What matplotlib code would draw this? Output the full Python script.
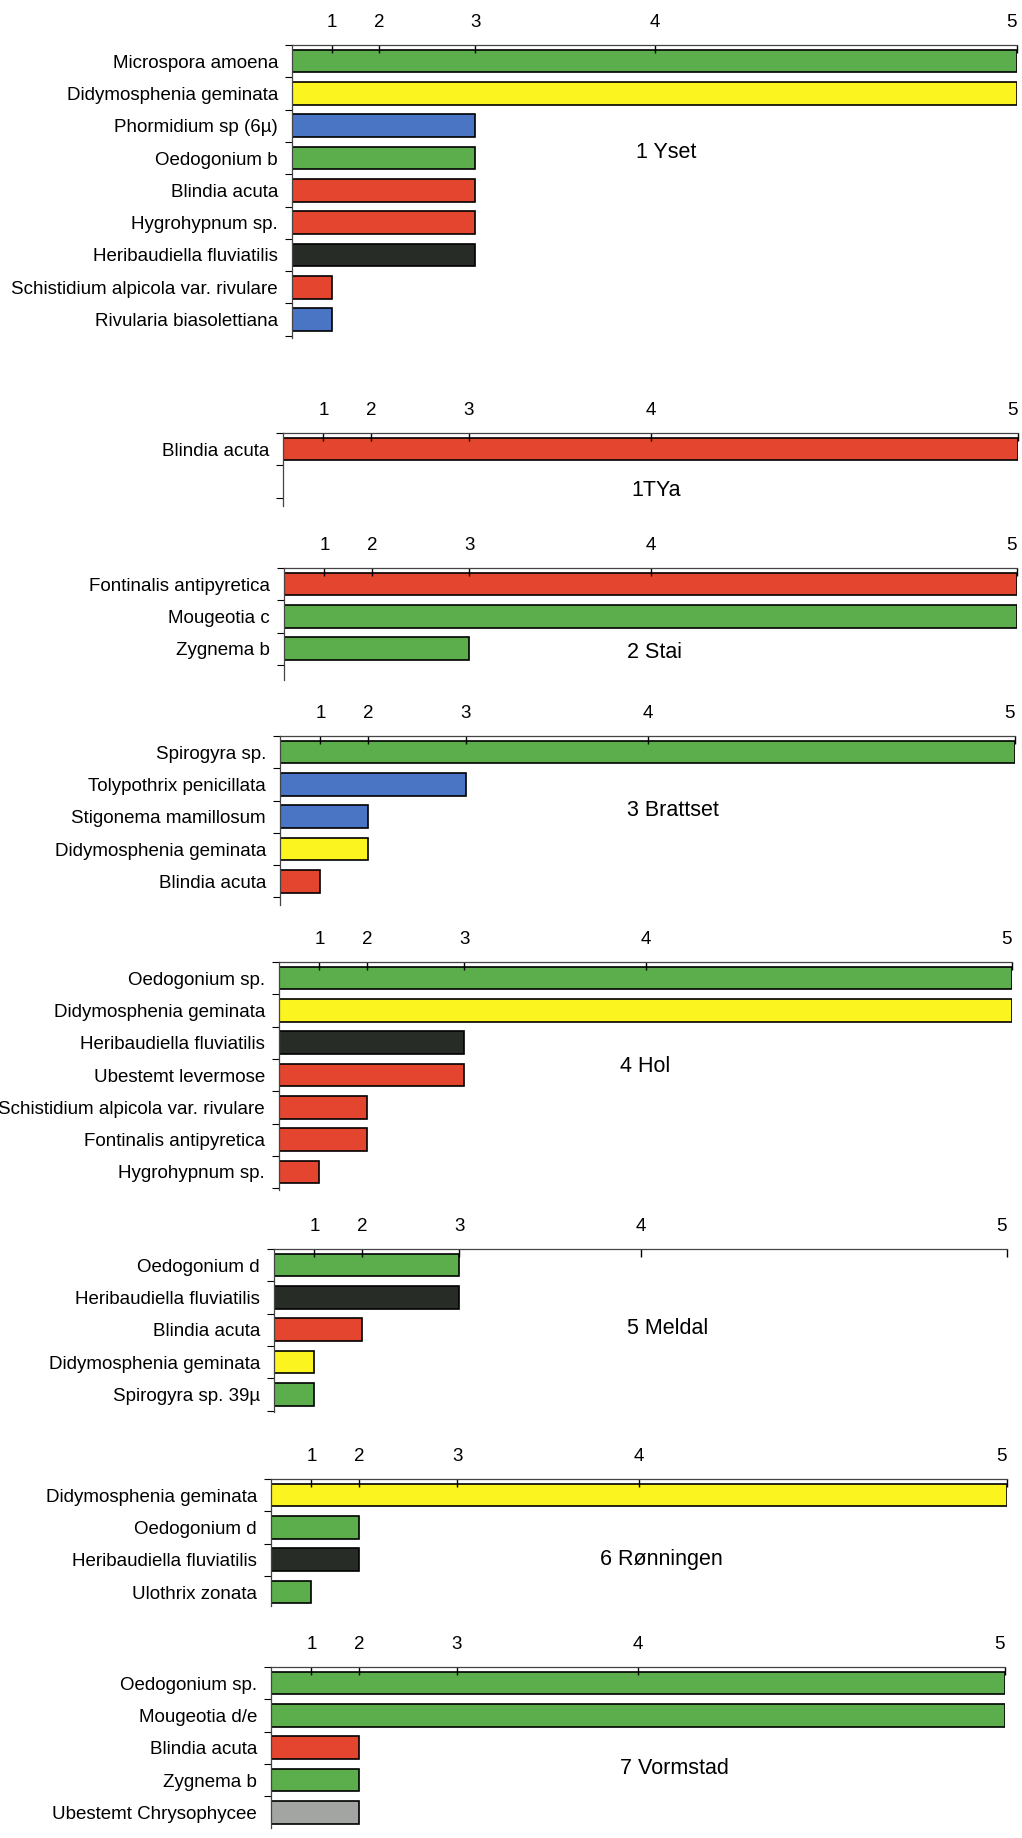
#Script for plotting the abundance of benthic algae and mosses at each station

#imports
import numpy as np
import matplotlib
matplotlib.use("Agg")
import matplotlib.pyplot as plt

plt.rcParams['font.family'] = ['Liberation Sans', 'DejaVu Sans']

#abundance scale (1-5) and where each step sits along the axis
levels = [0, 1, 2, 3, 4, 5]
level_pos = [0, 0.055, 0.12, 0.253, 0.5, 1.0]

#group colours: G=green algae, B=cyanobacteria, D=diatom, M=moss, H=Heribaudiella, C=chrysophyte
group_colors = {'G': '#5cae4c', 'B': '#4a74c4', 'D': '#fbf41f', 'M': '#e4452f',
                'H': '#272c27', 'C': '#a3a5a3'}

#data for each station
stations = ['1 Yset', '1TYa', '2 Stai', '3 Brattset', '4 Hol', '5 Meldal',
            '6 Rønningen', '7 Vormstad']

yset_taxa = ['Microspora amoena', 'Didymosphenia geminata', 'Phormidium sp (6µ)',
             'Oedogonium b', 'Blindia acuta', 'Hygrohypnum sp.', 'Heribaudiella fluviatilis',
             'Schistidium alpicola var. rivulare', 'Rivularia biasolettiana']
yset_values = [5, 5, 3, 3, 3, 3, 3, 1, 1]
yset_groups = ['G', 'D', 'B', 'G', 'M', 'M', 'H', 'M', 'B']

tya_taxa = ['Blindia acuta']
tya_values = [5]
tya_groups = ['M']

stai_taxa = ['Fontinalis antipyretica', 'Mougeotia c', 'Zygnema b']
stai_values = [5, 5, 3]
stai_groups = ['M', 'G', 'G']

brattset_taxa = ['Spirogyra sp.', 'Tolypothrix penicillata', 'Stigonema mamillosum',
                 'Didymosphenia geminata', 'Blindia acuta']
brattset_values = [5, 3, 2, 2, 1]
brattset_groups = ['G', 'B', 'B', 'D', 'M']

hol_taxa = ['Oedogonium sp.', 'Didymosphenia geminata', 'Heribaudiella fluviatilis',
            'Ubestemt levermose', 'Schistidium alpicola var. rivulare',
            'Fontinalis antipyretica', 'Hygrohypnum sp.']
hol_values = [5, 5, 3, 3, 2, 2, 1]
hol_groups = ['G', 'D', 'H', 'M', 'M', 'M', 'M']

meldal_taxa = ['Oedogonium d', 'Heribaudiella fluviatilis', 'Blindia acuta',
               'Didymosphenia geminata', 'Spirogyra sp. 39µ']
meldal_values = [3, 3, 2, 1, 1]
meldal_groups = ['G', 'H', 'M', 'D', 'G']

ronningen_taxa = ['Didymosphenia geminata', 'Oedogonium d', 'Heribaudiella fluviatilis',
                  'Ulothrix zonata']
ronningen_values = [5, 2, 2, 1]
ronningen_groups = ['D', 'G', 'H', 'G']

vormstad_taxa = ['Oedogonium sp.', 'Mougeotia d/e', 'Blindia acuta', 'Zygnema b',
                 'Ubestemt Chrysophycee']
vormstad_values = [5, 5, 2, 2, 2]
vormstad_groups = ['G', 'G', 'M', 'G', 'C']

all_taxa = [yset_taxa, tya_taxa, stai_taxa, brattset_taxa, hol_taxa, meldal_taxa,
            ronningen_taxa, vormstad_taxa]
all_values = [yset_values, tya_values, stai_values, brattset_values, hol_values,
              meldal_values, ronningen_values, vormstad_values]
all_groups = [yset_groups, tya_groups, stai_groups, brattset_groups, hol_groups,
              meldal_groups, ronningen_groups, vormstad_groups]

#panel placement in pixels (the scanned page is a bit skewed)
W, H = 1022, 1838
panel_left = [292, 283, 284, 280, 279, 274, 271, 271]
panel_right = [1017, 1018, 1017, 1015, 1012, 1007, 1007, 1005]
panel_top = [45, 433, 568, 736, 962, 1249, 1479, 1667]
panel_bottom = [338, 506, 680, 905, 1190, 1412, 1606, 1828]
title_x = [666, 656, 654, 673, 645, 668, 661, 674]
title_y = [153, 490, 653, 811, 1066, 1328, 1559, 1769]
row_h = 32.3


def forward(v):
    return np.interp(v, levels, level_pos)


def inverse(p):
    return np.interp(p, level_pos, levels)


fig = plt.figure(figsize=(W / 100, H / 100), dpi=100)

for i in range(len(stations)):
    l, r, t, b = panel_left[i], panel_right[i], panel_top[i], panel_bottom[i]
    ax = fig.add_axes([l / W, 1 - b / H, (r - l) / W, (b - t) / H])
    ax.set_xscale('function', functions=(forward, inverse))
    ax.set_xlim(0, 5)
    nrows = (b - t) / row_h
    ax.set_ylim(nrows, 0)

    taxa = all_taxa[i]
    centers = np.arange(len(taxa)) + 0.5
    colors = [group_colors[g] for g in all_groups[i]]
    ax.barh(centers, all_values[i], height=0.7, color=colors,
            edgecolor='black', linewidth=1.2)

    #top axis with the abundance classes
    ax.xaxis.tick_top()
    ax.set_xticks([1, 2, 3, 4, 5])
    ax.set_xticklabels(['1', '2', '3', '4', '5'])
    ax.tick_params(axis='x', direction='in', length=6, width=1.0, pad=10,
                   labelsize=13.5)
    ax.get_xticklabels()[-1].set_horizontalalignment('right')

    #left axis: ticks between the rows, names at row centers
    ax.set_yticks(np.arange(0, int(nrows) + 1))
    ax.set_yticklabels([])
    ax.tick_params(axis='y', which='major', direction='out', length=5, width=0.8)
    ax.set_yticks(centers, minor=True)
    ax.set_yticklabels(taxa, minor=True)
    ax.tick_params(axis='y', which='minor', length=0, pad=10, labelsize=13.5)

    for side in ['right', 'bottom']:
        ax.spines[side].set_visible(False)
    ax.spines['top'].set_linewidth(0.9)
    ax.spines['left'].set_linewidth(0.9)
    ax.spines['top'].set_color('#444444')
    ax.spines['left'].set_color('#444444')

    #station name
    fig.text(title_x[i] / W, 1 - title_y[i] / H, stations[i], fontsize=15.5,
             ha='center', va='center')

#output the figure
fig.savefig('out.png', dpi=100)
